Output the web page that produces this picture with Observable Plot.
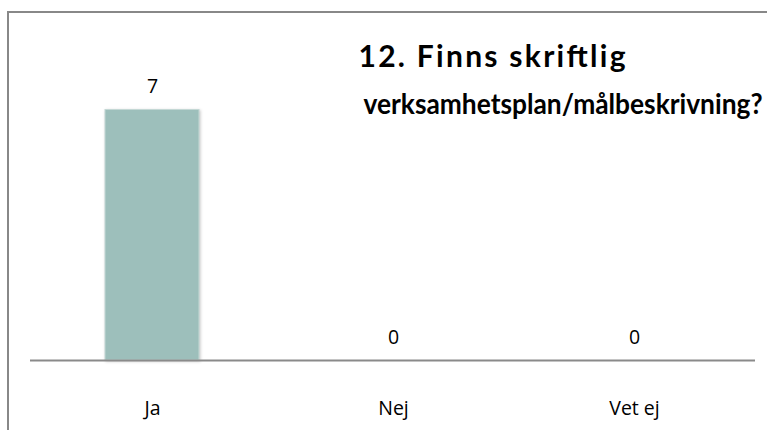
<!DOCTYPE html>
<html>
<head>
<meta charset="utf-8">
<script src="https://cdn.jsdelivr.net/npm/d3@7"></script>
<script src="https://cdn.jsdelivr.net/npm/@observablehq/plot@0.6"></script>
<style>
  html, body { margin: 0; padding: 0; background: #fff; }
  #wrap { position: relative; width: 767px; height: 430px; overflow: hidden; }
  #border { position: absolute; left: 7px; top: 11px; width: 800px; height: 500px;
            border-left: 2px solid #888; border-top: 2px solid #888; box-sizing: border-box; }
  #chart { position: absolute; left: 0; top: 0; }
  .bar rect { filter: drop-shadow(1.5px 1px 1.5px rgba(0,0,0,0.22)); }
</style>
</head>
<body>
<div id="wrap"><div id="border"></div><div id="chart"></div></div>
<script>
const categories = ["Ja", "Nej", "Vet ej"];
const counts = [7, 0, 0];
const titleLines = ["12. Finns skriftlig", "verksamhetsplan/målbeskrivning?"];

const data = categories.map((c, i) => ({category: c, value: counts[i]}));
const font = "'Open Sans', Lato, sans-serif";
const titleFont = "Lato, 'Open Sans', sans-serif";

const chart = Plot.plot({
  width: 767,
  height: 430,
  marginTop: 109.5,
  marginBottom: 70,
  marginLeft: 30,
  marginRight: 12,
  style: {fontFamily: font, fontSize: "19.5px", color: "#000", background: "transparent"},
  x: {domain: categories, paddingInner: 0.61, paddingOuter: 0.305},
  y: {domain: [0, 7], axis: null},
  marks: [
    Plot.barY(data, {x: "category", y: "value", fill: "#9dbfbb", stroke: "#c4d8d5", strokeWidth: 1, className: "bar"}),
    Plot.ruleY([0], {stroke: "#8a8a8a", strokeWidth: 2}),
    Plot.text(data, {x: "category", y: "value", text: d => String(d.value), dy: -23, lineAnchor: "middle", fontSize: 19.5, fill: "#000"}),
    Plot.axisX({tickSize: 0, tickPadding: 41, fontSize: 19.5, fill: "#000", label: null}),
    Plot.text([titleLines[0]], {frameAnchor: "top-left", dx: 328, dy: -52.6, text: d => d, fontSize: 30, fontWeight: "bold", fontFamily: titleFont, textAnchor: "start", lineAnchor: "middle", fill: "#000", className: "t1"}),
    Plot.text([titleLines[1]], {frameAnchor: "top-left", dx: 732, dy: -5.6, text: d => d, fontSize: 28.5, fontWeight: "bold", fontFamily: titleFont, textAnchor: "end", lineAnchor: "middle", fill: "#000", className: "t2"})
  ]
});
d3.select(chart).selectAll("g.t1 text").attr("textLength", 267).attr("lengthAdjust", "spacing");
d3.select(chart).selectAll("g.t2 text").attr("textLength", 399).attr("lengthAdjust", "spacingAndGlyphs");
document.getElementById("chart").appendChild(chart);
</script>
</body>
</html>
